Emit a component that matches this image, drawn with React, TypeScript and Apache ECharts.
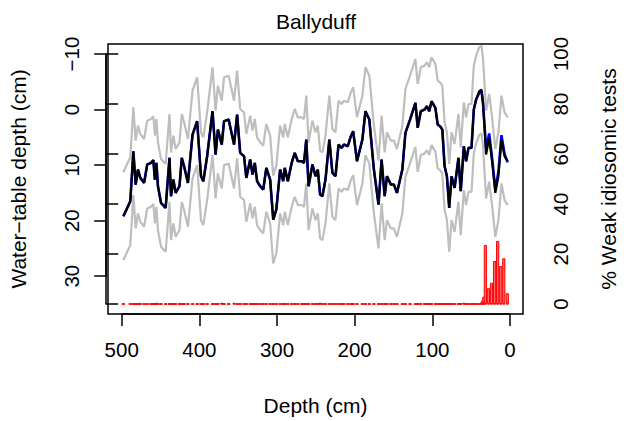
import React, { useEffect, useRef } from "react";
import * as echarts from "echarts";

// Sample depths (cm) of the reconstruction, top of core at 0
const depthCm = [
  500, 491, 487, 484, 481, 478, 473, 469, 464, 461, 459, 457, 455, 451, 445, 440, 438, 435, 432, 427,
  424, 421, 416, 410, 404, 399, 396, 391, 384, 380, 377, 372, 369, 363, 356, 352, 348, 343, 340, 335,
  332, 329, 326, 322, 318, 314, 309, 305, 301, 296, 292, 290, 286, 281, 277, 273, 268, 265, 262, 259,
  254, 250, 247, 244, 241, 237, 232, 228, 224, 220, 216, 213, 208, 204, 201, 196, 189, 185, 180, 174,
  168, 164, 160, 157, 152, 148, 144, 137, 133, 127, 120, 117, 113, 108, 105, 102, 99, 94, 91, 88,
  85, 82, 79, 76, 73, 69, 64, 61, 57, 54, 51, 47, 44, 41, 37, 34, 32, 28, 24, 20,
  16, 12, 8, 4, 0,
];

// Reconstructed water-table depth (cm), black line
const wtdBlack = [
  19.2, 16.5, 7.5, 13.5, 10.8, 12.3, 13.2, 9.9, 9.6, 9.1, 12.6, 9.6, 13.8, 16.8, 17.7, 8.7, 15.6, 12.6, 15.0, 13.8,
  8.7, 10.2, 13.2, 4.5, 2.1, 12.0, 12.9, 8.4, 0.3, 8.1, 3.6, 6.3, 2.1, 1.8, 6.3, 0.9, 7.8, 8.4, 12.3, 9.0,
  11.7, 9.6, 12.9, 13.8, 14.4, 10.5, 12.6, 19.8, 18.0, 10.8, 12.9, 10.5, 12.9, 9.6, 7.8, 9.3, 9.3, 9.6, 5.4, 13.8,
  9.9, 12.0, 10.8, 15.3, 15.6, 12.6, 5.4, 11.4, 12.0, 6.3, 6.9, 6.3, 6.6, 4.8, 3.9, 9.3, 5.4, 0.3, 1.8, 10.8,
  17.1, 9.0, 15.6, 12.0, 13.5, 13.5, 15.0, 10.8, 4.2, 1.8, -1.2, 3.3, 0.3, 0.0, -0.6, 0.3, -1.5, -0.3, 2.7, 3.0,
  3.6, 10.2, 12.0, 17.7, 12.0, 14.1, 8.7, 14.7, 6.6, 9.3, 6.9, 6.9, 0.0, -1.8, -3.3, -3.6, -1.2, 8.1, 5.1, 9.6,
  15.0, 12.0, 5.4, 8.4, 9.3,
];

// Alternative reconstruction (blue line), drawn beneath the black one
const wtdBlue = [
  19.2, 16.5, 7.5, 13.5, 10.8, 12.3, 13.2, 9.9, 9.6, 9.1, 12.6, 9.6, 13.8, 16.8, 17.7, 8.7, 15.6, 12.6, 15.0, 13.8,
  8.7, 10.2, 13.2, 4.5, 2.1, 12.0, 12.9, 8.4, 0.3, 8.1, 3.6, 6.3, 2.1, 1.8, 6.3, 0.9, 7.8, 8.4, 12.3, 9.0,
  11.7, 9.6, 12.9, 13.8, 14.4, 10.5, 12.6, 19.8, 18.0, 10.8, 12.9, 10.5, 12.9, 9.6, 7.8, 9.3, 9.3, 9.6, 5.4, 13.8,
  9.9, 12.0, 10.8, 15.3, 15.6, 12.6, 5.4, 11.4, 12.0, 6.3, 6.9, 6.3, 6.6, 4.8, 3.9, 9.3, 5.4, 0.3, 1.8, 10.8,
  17.1, 9.0, 15.6, 12.0, 13.5, 13.5, 15.0, 10.8, 4.2, 1.8, -1.2, 3.3, 0.3, 0.0, -0.6, 0.3, -1.5, -0.3, 2.7, 3.0,
  3.6, 10.2, 12.0, 17.7, 12.0, 14.1, 8.7, 14.7, 6.6, 9.3, 6.9, 6.9, 0.0, -1.8, -3.0, -3.3, -1.0, 7.0, 4.3, 9.0,
  14.4, 11.2, 4.6, 8.0, 9.5,
];

// Sample-specific error band half-width (cm), grey lines
const errorCm = 7.9;

// % weak idiosomic tests per sample (red bars)
const weakDepthCm = [
  500, 491, 487, 484, 481, 478, 473, 469, 464, 461, 459, 457, 455, 451, 445, 440, 438, 435, 432, 427,
  424, 421, 416, 410, 404, 399, 396, 391, 384, 380, 377, 372, 369, 363, 356, 352, 348, 343, 340, 335,
  332, 329, 326, 322, 318, 314, 309, 305, 301, 296, 292, 290, 286, 281, 277, 273, 268, 265, 262, 259,
  254, 250, 247, 244, 241, 237, 232, 228, 224, 220, 216, 213, 208, 204, 201, 196, 189, 185, 180, 174,
  168, 164, 160, 157, 152, 148, 144, 137, 133, 127, 120, 117, 113, 108, 105, 102, 99, 94, 91, 88,
  85, 82, 79, 76, 73, 69, 64, 61, 57, 54, 51, 47, 44, 41, 37,
  34, 33, 31, 29, 25, 21, 17, 13, 9, 5, 0.5,
];
const weakPct = [
  0, 0, 0, 0, 0, 0, 0, 0, 0, 0, 0, 0.5, 0, 0, 0, 0, 0, 0, 0, 0,
  0, 0, 0, 0, 0, 0, 0, 0, 0, 0, 0, 0.5, 0, 0, 0.5, 0, 0, 0, 0, 0,
  0, 0, 0, 0, 0, 0, 0, 0, 0, 0, 0, 0, 0, 0, 0, 0, 0, 0, 0, 0,
  0, 0, 0, 0.5, 0, 0, 0, 0, 0, 0, 0, 0, 0, 0, 0, 0, 0, 0, 0, 0,
  0, 0, 0, 0, 0, 0, 0, 0, 0, 0, 0, 0, 0, 0, 0, 0, 0, 0, 0, 0,
  0, 0, 0, 0, 0, 0, 0, 0, 0.5, 0, 0, 0, 0, 0, 0,
  0.4, 1.3, 2.9, 23.6, 6.3, 8.5, 17.2, 25.2, 15.2, 18.3, 4.3,
];

const depthTicks = [0, 100, 200, 300, 400, 500];
const wtdTicks = [-10, 0, 10, 20, 30];
const pctTicks = [0, 20, 40, 60, 80, 100];

const FONT = "'Liberation Sans', Arial, Helvetica, sans-serif";
const INK = "#000000";

export default function App() {
  const ref = useRef<HTMLDivElement>(null);

  useEffect(() => {
    document.body.style.margin = "0";
    if (!ref.current) return;
    const chart = echarts.init(ref.current, undefined, { renderer: "svg" });

    const pairs = (vals: number[]) => depthCm.map((d, i) => [d, vals[i]]);
    const upper = wtdBlack.map((v) => v - errorCm);
    const lower = wtdBlack.map((v) => v + errorCm);

    const plot = { left: 106.2, right: 101.5, top: 44, bottom: 107 };
    const axisLineStyle = { color: INK, width: 1.5 };
    const labelBase = { color: INK, fontSize: 20.5, fontFamily: FONT };
    const nameBase = { color: INK, fontSize: 21, fontFamily: FONT };
    const minus = (v: number) => (v < 0 ? "\u2212" + Math.abs(v) : String(v));

    const option: any = {
      animation: false,
      title: {
        text: "Ballyduff",
        left: 316,
        top: 11,
        padding: 0,
        textAlign: "center",
        textStyle: { ...nameBase, fontWeight: "normal" },
      },
      grid: [
        { ...plot, show: true, borderColor: INK, borderWidth: 1.5, backgroundColor: "transparent", containLabel: false },
        { left: 106.2, right: 101.5, top: 54, bottom: 144.8, containLabel: false },
        { left: 106.2, right: 101.5, top: 54, bottom: 117, containLabel: false },
        { left: 121.7, right: 117, top: 44, bottom: 107, containLabel: false },
      ],
      xAxis: [
        {
          gridIndex: 0, type: "value", min: -20, max: 520, inverse: true,
          name: "Depth (cm)", nameLocation: "middle", nameGap: 81, nameTextStyle: nameBase,
          axisLine: { show: false }, axisTick: { show: false }, axisLabel: { show: false }, splitLine: { show: false },
        },
        { gridIndex: 1, type: "value", min: 0, max: 1, show: false },
        { gridIndex: 2, type: "value", min: 0, max: 1, show: false },
        {
          gridIndex: 3, type: "value", min: 0, max: 500, interval: 100, inverse: true, position: "bottom",
          axisLine: { show: true, lineStyle: axisLineStyle },
          axisTick: { show: true, length: 12, inside: false, lineStyle: axisLineStyle },
          axisLabel: { ...labelBase, margin: 25, showMinLabel: true, showMaxLabel: true,
            formatter: (v: number) => (depthTicks.includes(v) ? String(v) : "") },
          splitLine: { show: false },
        },
      ],
      yAxis: [
        {
          gridIndex: 0, type: "value", min: -11.8, max: 36.8, inverse: true, position: "left",
          name: "Water\u2212table depth (cm)", nameLocation: "middle", nameGap: 79, nameTextStyle: nameBase,
          axisLine: { show: false }, axisTick: { show: false }, axisLabel: { show: false }, splitLine: { show: false },
        },
        {
          gridIndex: 0, type: "value", min: -4, max: 104, position: "right",
          name: "% Weak idiosomic tests", nameLocation: "middle", nameGap: 75, nameTextStyle: nameBase,
          axisLine: { show: false }, axisTick: { show: false }, axisLabel: { show: false }, splitLine: { show: false },
        },
        {
          gridIndex: 1, type: "value", min: -10, max: 30, interval: 10, inverse: true, position: "left",
          axisLine: { show: true, lineStyle: axisLineStyle },
          axisTick: { show: true, length: 12, inside: false, lineStyle: axisLineStyle },
          axisLabel: { ...labelBase, margin: 24, rotate: 90,
            formatter: (v: number) => (wtdTicks.includes(v) ? minus(v) : "") },
          splitLine: { show: false },
        },
        {
          gridIndex: 2, type: "value", min: 0, max: 100, interval: 20, position: "right",
          axisLine: { show: true, lineStyle: axisLineStyle },
          axisTick: { show: true, length: 12, inside: false, lineStyle: axisLineStyle },
          axisLabel: { ...labelBase, margin: 24, rotate: 90,
            formatter: (v: number) => (pctTicks.includes(v) ? String(v) : "") },
          splitLine: { show: false },
        },
        { gridIndex: 3, type: "value", min: 0, max: 1, show: false },
      ],
      series: [
        {
          type: "line", xAxisIndex: 0, yAxisIndex: 0, data: pairs(upper), symbol: "none",
          lineStyle: { color: "#BEBEBE", width: 2.2 }, z: 2,
        },
        {
          type: "line", xAxisIndex: 0, yAxisIndex: 0, data: pairs(lower), symbol: "none",
          lineStyle: { color: "#BEBEBE", width: 2.2 }, z: 2,
        },
        {
          type: "line", xAxisIndex: 0, yAxisIndex: 0, data: pairs(wtdBlue), symbol: "none",
          lineStyle: { color: "#0000FF", width: 2.6 }, z: 3,
        },
        {
          type: "line", xAxisIndex: 0, yAxisIndex: 0, data: pairs(wtdBlack), symbol: "none",
          lineStyle: { color: "#000000", width: 2.2 }, z: 4,
        },
        {
          type: "bar", xAxisIndex: 0, yAxisIndex: 1, barWidth: 3.2,
          data: weakDepthCm.map((d, i) => [d, weakPct[i]]),
          itemStyle: { color: "rgba(255,110,110,1)", borderColor: "#FF0000", borderWidth: 1 }, z: 5,
        },
        {
          type: "scatter", xAxisIndex: 0, yAxisIndex: 1, symbol: "rect", symbolSize: [2.2, 2],
          data: weakDepthCm.map((d) => [d, 0]),
          itemStyle: { color: "#FF0000" }, z: 5,
        },
      ],
    };

    chart.setOption(option);
    return () => chart.dispose();
  }, []);

  return <div ref={ref} style={{ width: 627, height: 421 }} />;
}
